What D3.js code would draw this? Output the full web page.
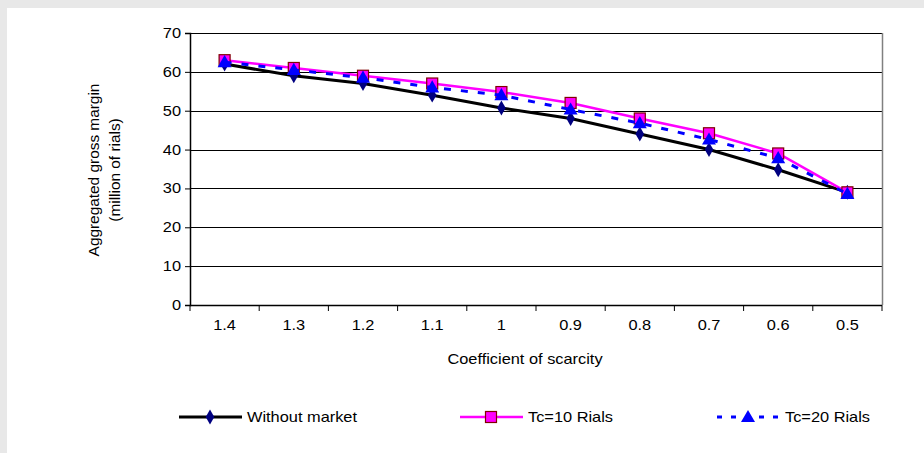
<!DOCTYPE html>
<html>
<head>
<meta charset="utf-8">
<script src="https://cdn.jsdelivr.net/npm/d3@7"></script>
<style>
  body { margin: 0; background: #e8e8e8; }
  svg { display: block; font-family: "Liberation Sans", Arial, sans-serif; }
</style>
</head>
<body>
<svg id="chart" width="924" height="453"></svg>
<script>
// chart data
var categories = ["1.4", "1.3", "1.2", "1.1", "1", "0.9", "0.8", "0.7", "0.6", "0.5"];
var withoutMarket = [62, 59, 57, 54, 50.7, 48, 44, 40, 34.8, 29];
var tc10 = [63, 61, 59, 57, 54.8, 52, 48, 44.2, 39, 29];
var tc20 = [62.5, 60.5, 58.5, 56, 54, 50.3, 46.8, 42.6, 37.8, 28.6];
var yTicks = [0, 10, 20, 30, 40, 50, 60, 70];

var svg = d3.select("#chart");

// white panel over gray page
svg.append("rect").attr("x", 7).attr("y", 8).attr("width", 917).attr("height", 445).attr("fill", "#fff");

var pLeft = 190, pRight = 882, pTop = 33, pBottom = 305;
var sx = 1.17; // the original text is a bit stretched horizontally

var x = d3.scaleBand().domain(categories).range([pLeft, pRight]);
var y = d3.scaleLinear().domain([0, 70]).range([pBottom, pTop]);

// stretched text helper
function label(parent, tx, ty, str, anchor) {
  return parent.append("text")
    .attr("transform", `translate(${tx},${ty}) scale(${sx},1)`)
    .attr("text-anchor", anchor || "start")
    .attr("font-size", 14).attr("fill", "#000").text(str);
}

// gridlines
svg.append("g").selectAll("line").data(yTicks.slice(1))
  .enter().append("line")
    .attr("x1", pLeft).attr("x2", pRight)
    .attr("y1", d => Math.round(y(d)) + 0.5).attr("y2", d => Math.round(y(d)) + 0.5)
    .attr("stroke", "#000").attr("stroke-width", 1);

// right border
svg.append("line").attr("x1", pRight + 0.5).attr("x2", pRight + 0.5).attr("y1", pTop).attr("y2", pBottom)
  .attr("stroke", "#808080").attr("stroke-width", 1.5);

// y axis
var yAxis = svg.append("g").attr("transform", `translate(${pLeft},0)`)
  .call(d3.axisLeft(y).tickValues(yTicks).tickSize(5).tickFormat(""));
yAxis.select(".domain").attr("stroke", "#000").attr("stroke-width", 1.5);
yTicks.forEach(function(t) { label(svg, pLeft - 9, y(t) + 5, t, "end"); });

// x axis, ticks between categories
var xAxis = svg.append("g").attr("transform", `translate(0,${pBottom})`);
xAxis.append("line").attr("x1", pLeft).attr("x2", pRight).attr("y1", 0.5).attr("y2", 0.5)
  .attr("stroke", "#000").attr("stroke-width", 1.5);
var bounds = categories.map(c => x(c)).concat([pRight]);
xAxis.selectAll(".tk").data(bounds).enter().append("line")
  .attr("x1", d => d).attr("x2", d => d).attr("y1", 0).attr("y2", 6)
  .attr("stroke", "#000");
categories.forEach(function(c) { label(xAxis, x(c) + x.bandwidth() / 2, 25, c, "middle"); });

// axis titles
label(svg, 525, 364, "Coefficient of scarcity", "middle");
var yt = svg.append("text").attr("transform", "translate(99,170) rotate(-90) scale(1.1,1)")
  .attr("text-anchor", "middle").attr("font-size", 14);
yt.append("tspan").attr("x", 0).attr("dy", 0).text("Aggregated gross margin");
yt.append("tspan").attr("x", 0).attr("dy", 21).text("(million of rials)");

var cx = (d, i) => x(categories[i]) + x.bandwidth() / 2;
var line = d3.line().x((d, i) => cx(d, i)).y(d => y(d));

var series = [
  { name: "Without market", values: withoutMarket, stroke: "#000", width: 3, dash: null, marker: "diamond" },
  { name: "Tc=10 Rials", values: tc10, stroke: "#ff00ff", width: 2.5, dash: null, marker: "square" },
  { name: "Tc=20 Rials", values: tc20, stroke: "#0000ff", width: 3, dash: "7,10", marker: "triangle" }
];

function drawMarker(g, type, px, py) {
  if (type === "diamond") {
    g.append("path").attr("d", d3.symbol(d3.symbolDiamond, 64)())
      .attr("transform", `translate(${px},${py})`).attr("fill", "#000080");
  } else if (type === "square") {
    g.append("rect").attr("x", px - 5.5).attr("y", py - 5.5).attr("width", 11).attr("height", 11)
      .attr("fill", "#ff00ff").attr("stroke", "#800000").attr("stroke-width", 1.2);
  } else {
    g.append("path").attr("d", d3.symbol(d3.symbolTriangle, 85)())
      .attr("transform", `translate(${px},${py + 1})`).attr("fill", "#0000ff");
  }
}

series.forEach(function(s) {
  var g = svg.append("g");
  g.append("path").datum(s.values).attr("d", line)
    .attr("fill", "none").attr("stroke", s.stroke).attr("stroke-width", s.width)
    .attr("stroke-dasharray", s.dash);
  s.values.forEach(function(v, i) { drawMarker(g, s.marker, cx(v, i), y(v)); });
});

// legend
var legendX = [179, 460, 717];
series.forEach(function(s, i) {
  var g = svg.append("g").attr("transform", `translate(${legendX[i]},417)`);
  g.append("line").attr("x1", 0).attr("x2", 63).attr("y1", 0).attr("y2", 0)
    .attr("stroke", s.stroke).attr("stroke-width", s.width).attr("stroke-dasharray", s.dash ? "5,9" : null);
  drawMarker(g, s.marker, 31, 0);
  label(g, 68, 5, s.name);
});
</script>
</body>
</html>
